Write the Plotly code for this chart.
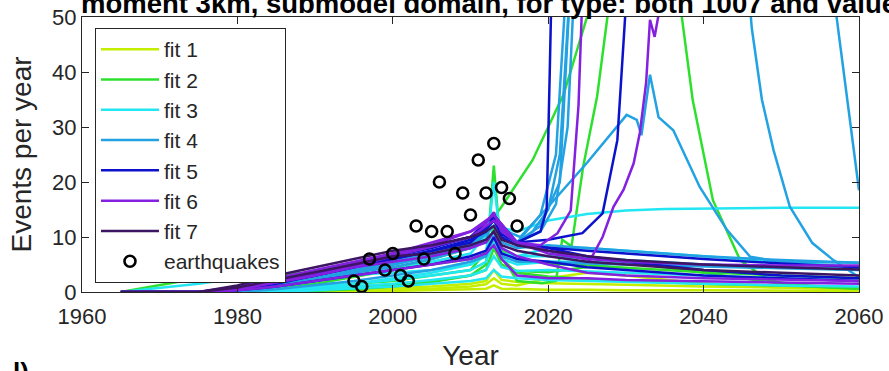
import plotly.graph_objects as go

# ---- common year grid for the ensemble runs ----
grid_years = [1965, 1975, 1980, 1985, 1990, 1995, 2000, 2005, 2010, 2012,
              2013, 2014, 2016, 2020, 2025, 2030, 2040, 2050, 2060]

fit1_runs = [
    [0, 0, 0, 0, 0, 0.1, 0.2, 0.3, 0.5, 0.6, 1.2, 0.6, 0.5, 0.4, 0.4, 0.3, 0.3, 0.2, 0.2],
    [0, 0, 0, 0, 0.2, 0.4, 0.7, 1.0, 1.5, 2.0, 4.0, 2.2, 1.8, 1.6, 1.5, 1.3, 1.0, 0.8, 0.6],
    [0, 0, 0, 0, 0, 0.2, 0.4, 0.6, 1.0, 1.4, 2.5, 1.5, 1.2, 2.5, 3.5, 3.0, 1.5, 0.8, 0.4],
]
fit2_runs = [
    [0, 0, 0, 0, 0.2, 0.5, 1.0, 1.8, 3.0, 5.0, 23.0, 6.0, 3.5, 2.8, 2.4, 2.0, 1.5, 1.1, 0.8],
    [0, 2.5, 3.0, 3.2, 3.5, 4.0, 4.5, 5.0, 6.0, 7.0, 12.0, 7.5, 6.0, 5.2, 4.8, 4.4, 3.6, 3.0, 2.5],
    [0, 0, 0, 0, 0.3, 0.8, 1.2, 2.0, 3.0, 4.0, 8.0, 5.0, 3.8, 3.6, 4.5, 5.5, 3.5, 1.5, 0.6],
]
fit3_runs = [
    [0, 1.5, 2.5, 2.8, 3.0, 3.2, 3.5, 4.0, 5.0, 7.0, 20.0, 8.0, 6.5, 6.5, 6.2, 5.8, 5.0, 4.5, 4.0],
    [0, 0, 0, 0.5, 1.0, 1.5, 2.2, 3.0, 4.0, 5.5, 9.0, 6.0, 5.0, 5.5, 5.5, 5.2, 4.8, 4.5, 4.2],
    [0, 0, 0, 0.2, 0.6, 1.0, 1.5, 2.2, 3.0, 4.0, 6.5, 4.5, 3.8, 4.0, 3.8, 3.5, 3.0, 2.5, 2.0],
    [0, 0, 0, 0.3, 0.8, 1.5, 2.5, 3.5, 5.0, 6.5, 11.0, 7.0, 6.5, 8.0, 8.0, 7.5, 6.5, 5.5, 4.5],
    [0, 0, 0, 0, 0.3, 0.6, 1.0, 1.5, 2.0, 2.5, 4.0, 2.8, 2.5, 2.2, 2.0, 1.8, 1.5, 1.2, 1.0],
]
fit4_runs = [
    [0, 0, 0.5, 1.5, 2.5, 3.5, 4.5, 6.0, 8.0, 9.5, 14.0, 9.0, 8.0, 8.5, 8.0, 7.5, 6.5, 5.8, 5.3],
    [0, 0, 0, 0.5, 1.2, 2.0, 3.0, 4.0, 5.5, 6.5, 10.0, 6.5, 5.5, 5.5, 5.2, 5.0, 4.6, 4.3, 4.0],
]
fit5_runs = [
    [0, 0, 0.5, 1.5, 3.0, 4.5, 6.0, 7.5, 9.5, 11.0, 14.0, 10.0, 8.5, 8.0, 7.5, 7.0, 6.0, 5.2, 4.5],
    [0, 0, 0.3, 1.0, 2.0, 3.0, 4.0, 5.0, 6.5, 7.5, 10.0, 7.0, 6.0, 5.5, 4.5, 4.0, 3.0, 2.5, 2.0],
    [0, 0, 0.8, 2.0, 3.5, 5.0, 6.5, 8.0, 10.0, 11.5, 13.0, 10.5, 9.0, 8.0, 6.5, 5.5, 4.0, 3.0, 2.5],
]
fit6_runs = [
    [0, 0, 1.0, 2.5, 4.0, 5.5, 7.0, 8.5, 11.0, 12.5, 14.5, 11.0, 9.0, 7.0, 6.0, 5.5, 5.0, 4.8, 4.8],
    [0, 0, 0.5, 1.8, 3.0, 4.5, 5.5, 6.5, 8.0, 9.0, 11.0, 8.0, 6.5, 5.0, 3.5, 3.0, 2.5, 2.2, 2.0],
    [0, 0, 0.3, 1.0, 2.0, 3.0, 4.0, 5.0, 6.0, 7.0, 8.5, 6.0, 3.0, 2.5, 2.5, 2.2, 2.0, 1.8, 1.5],
]
fit7_runs = [
    [0, 0, 1.2, 3.0, 4.5, 6.0, 7.5, 8.5, 10.0, 11.0, 12.0, 9.5, 8.5, 7.5, 6.5, 5.8, 5.0, 4.5, 4.1],
    [0, 0, 0.8, 2.2, 3.5, 5.0, 6.5, 7.0, 8.5, 9.5, 11.0, 8.5, 7.5, 6.5, 5.5, 5.0, 4.0, 3.5, 3.0],
]

# ---- runs with their own year sampling (run-away and late-decay cases) ----
fit2_fast_years = [1980, 1990, 2000, 2010, 2014, 2018, 2022, 2025, 2026]
fit2_fast_vals = [0, 1.5, 4.0, 8.0, 15.5, 24.0, 36.0, 50.0, 58.0]

fit2_step_years = [1980, 1990, 2000, 2010, 2013, 2016, 2019.2, 2021, 2021.8, 2023,
                   2024.5, 2026.3, 2027.7, 2029, 2036, 2037.2, 2038.6, 2041.2, 2044.7,
                   2048.2, 2052, 2056, 2060]
fit2_step_vals = [0, 1.0, 2.0, 4.0, 9.0, 2.0, 1.6, 2.0, 9.5, 8.3,
                  22.8, 35.6, 50.0, 65.0, 65.0, 50.0, 34.9, 16.7, 5.8,
                  2.2, 1.2, 0.8, 0.6]

fit3_flat_years = [1980, 1990, 2000, 2010, 2013, 2016, 2020, 2025, 2030, 2035, 2040, 2050, 2060]
fit3_flat_vals = [0, 2.0, 4.0, 7.0, 12.0, 11.0, 13.0, 14.2, 14.8, 15.1, 15.2, 15.3, 15.3]

fit4_hump_years = [1980, 1990, 2000, 2010, 2013, 2016.4, 2020, 2025, 2030.1, 2031.4,
                   2032, 2033.1, 2034.2, 2036.1, 2039.5, 2043, 2046, 2050, 2060]
fit4_hump_vals = [0, 2.0, 5.0, 8.0, 12.0, 10.0, 15.5, 23.5, 32.2, 31.3,
                  28.5, 39.5, 31.8, 29.4, 19.1, 11.3, 6.4, 5.5, 5.3]

fit4_late_years = [1980, 1990, 2000, 2010, 2013, 2016, 2019, 2021, 2022.5, 2045.5,
                   2046.2, 2047.5, 2049, 2051.1, 2054, 2056.7, 2060]
fit4_late_vals = [0, 2.0, 5.0, 8.0, 13.0, 9.0, 14.0, 25.0, 60.0, 60.0,
                  48.0, 35.0, 25.8, 15.5, 8.9, 5.8, 2.7]

fit4_edge_years = [1980, 1990, 2000, 2010, 2013, 2016, 2019, 2021.5, 2023, 2056.2, 2060]
fit4_edge_vals = [0, 2.5, 5.5, 9.0, 13.0, 9.0, 12.0, 20.0, 60.0, 60.0, 18.5]

fit4_runaway_a_years = [1978, 1990, 2000, 2010, 2013, 2016, 2018, 2020, 2021.5, 2022.3, 2023]
fit4_runaway_a_vals = [0, 2.5, 5.5, 9.0, 13.0, 9.0, 11.0, 15.0, 25.0, 45.0, 60.0]
fit4_runaway_b_years = [1978, 1990, 2000, 2010, 2013, 2016, 2019, 2021, 2022.5, 2023.5]
fit4_runaway_b_vals = [0, 2.0, 5.0, 8.5, 12.0, 9.0, 11.0, 16.0, 30.0, 60.0]

fit5_fast_years = [1978, 1990, 2000, 2010, 2013, 2016, 2019, 2019.8, 2020.2, 2020.5]
fit5_fast_vals = [0, 3.0, 6.0, 9.0, 13.0, 9.0, 11.0, 15.0, 40.0, 60.0]
fit5_late_years = [1978, 1990, 2000, 2010, 2013, 2016, 2020, 2024.4, 2027, 2028.9, 2029.9, 2030.5]
fit5_late_vals = [0, 3.0, 6.5, 10.0, 14.0, 9.0, 9.5, 10.7, 14.3, 27.6, 50.0, 65.0]

fit6_fast_years = [1978, 1990, 2000, 2010, 2013, 2016, 2019, 2021.2, 2022.9, 2023.9, 2024.3, 2024.6]
fit6_fast_vals = [0, 3.0, 6.5, 10.0, 13.0, 9.0, 8.5, 10.7, 14.8, 33.9, 50.0, 60.0]
fit6_late_years = [1978, 1990, 2000, 2010, 2013, 2016, 2020, 2025.4, 2027, 2028.4, 2029.7,
                   2031, 2031.8, 2032.6, 2033.1, 2033.7, 2034.4, 2035]
fit6_late_vals = [0, 3.5, 7.0, 11.0, 14.0, 9.0, 7.5, 5.8, 10.0, 15.5, 18.6,
                  23.4, 29.0, 38.0, 49.5, 46.4, 52.0, 60.0]

# ---- observed earthquakes ----
quake_years = [1995, 1996, 1997, 1999, 2000, 2001, 2002, 2003, 2004, 2005, 2006,
               2007, 2008, 2009, 2010, 2011, 2012, 2013, 2014, 2015, 2016]
quake_counts = [2, 1, 6, 4, 7, 3, 2, 12, 6, 11, 20, 11, 7, 18, 14, 24, 18, 27, 19, 17, 12]

fit_names = ["fit 1", "fit 2", "fit 3", "fit 4", "fit 5", "fit 6", "fit 7"]
fit_colors = ["#c4ee00", "#2ee02e", "#22e6f2", "#22a2e2", "#0c12cc", "#8420e0", "#3c1662"]

grid_runs = [fit1_runs, fit2_runs, fit3_runs, fit4_runs, fit5_runs, fit6_runs, fit7_runs]
extra_runs = [
    [],
    [(fit2_fast_years, fit2_fast_vals), (fit2_step_years, fit2_step_vals)],
    [(fit3_flat_years, fit3_flat_vals)],
    [(fit4_hump_years, fit4_hump_vals), (fit4_late_years, fit4_late_vals),
     (fit4_edge_years, fit4_edge_vals), (fit4_runaway_a_years, fit4_runaway_a_vals),
     (fit4_runaway_b_years, fit4_runaway_b_vals)],
    [(fit5_fast_years, fit5_fast_vals), (fit5_late_years, fit5_late_vals)],
    [(fit6_fast_years, fit6_fast_vals), (fit6_late_years, fit6_late_vals)],
    [],
]

FONT = "Liberation Sans, Arial, sans-serif"
AXIS_COLOR = "#262626"

fig = go.Figure()

for name, color, runs, extras in zip(fit_names, fit_colors, grid_runs, extra_runs):
    series = [(grid_years, r) for r in runs] + extras
    for i, (xs, ys) in enumerate(series):
        fig.add_trace(go.Scatter(
            x=xs, y=ys, mode="lines", name=name, legendgroup=name,
            showlegend=(i == 0),
            line=dict(color=color, width=2.5),
        ))

fig.add_trace(go.Scatter(
    x=quake_years, y=quake_counts, mode="markers", name="earthquakes",
    marker=dict(symbol="circle-open", size=11, color="black", line=dict(width=2.6)),
))

fig.update_layout(
    width=889, height=371,
    margin=dict(l=82, r=30, t=17, b=79),
    paper_bgcolor="white", plot_bgcolor="white",
    font=dict(family=FONT, size=22, color=AXIS_COLOR),
    showlegend=True,
    legend=dict(
        x=0.0167, y=0.96, xanchor="left", yanchor="top",
        bgcolor="white", bordercolor=AXIS_COLOR, borderwidth=1,
        font=dict(family=FONT, size=21, color=AXIS_COLOR),
        tracegroupgap=0, itemwidth=58, maxheight=400,
    ),
    xaxis=dict(
        range=[1960, 2060], tickvals=[1960, 1980, 2000, 2020, 2040, 2060],
        showline=True, linecolor=AXIS_COLOR, linewidth=1, mirror="ticks",
        ticks="inside", ticklen=7, tickcolor=AXIS_COLOR,
        showgrid=False, zeroline=False, automargin=False,
        ticklabelstandoff=5,
        tickfont=dict(family=FONT, size=22, color=AXIS_COLOR),
        title=dict(text="Year", font=dict(family=FONT, size=28, color=AXIS_COLOR), standoff=18),
    ),
    yaxis=dict(
        range=[0, 50], tickvals=[0, 10, 20, 30, 40, 50],
        showline=True, linecolor=AXIS_COLOR, linewidth=1, mirror="ticks",
        ticks="inside", ticklen=7, tickcolor=AXIS_COLOR,
        showgrid=False, zeroline=False, automargin=False,
        tickfont=dict(family=FONT, size=22, color=AXIS_COLOR),
        title=dict(text="Events per year", font=dict(family=FONT, size=28, color=AXIS_COLOR), standoff=12),
    ),
    annotations=[
        dict(text="<b>moment 3km, submodel domain, for type: both 1007 and value</b>",
             xref="paper", yref="paper", x=-0.004, y=1.0, xanchor="left", yanchor="bottom",
             yshift=-4, showarrow=False,
             font=dict(family=FONT, size=27.5, color="black")),
        dict(text="<b>l)</b>", xref="paper", yref="paper", x=-0.092, y=-0.25,
             xanchor="left", yanchor="top", yshift=6, showarrow=False,
             font=dict(family=FONT, size=26, color="black")),
    ],
)

fig.write_html("out.html")
